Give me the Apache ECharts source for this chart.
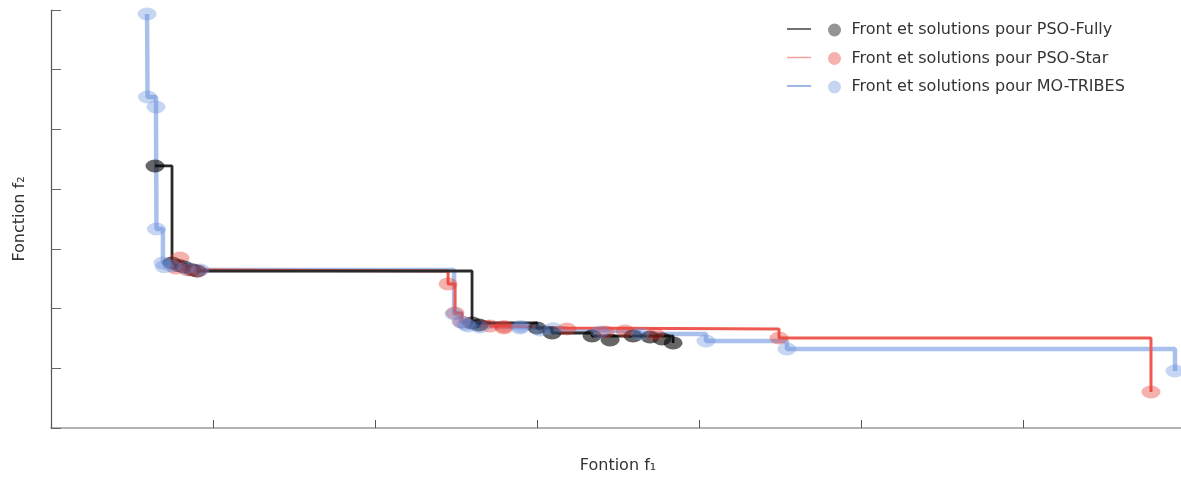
<!DOCTYPE html>
<html>
<head>
<meta charset="utf-8">
<script src="https://cdn.jsdelivr.net/npm/echarts@6/dist/echarts.min.js"></script>
<style>
html,body{margin:0;padding:0;background:#fff;}
#chart{width:1181px;height:477px;}
</style>
</head>
<body>
<div id="chart"></div>
<script>
// Series names
const seriesNames = ['Front et solutions pour PSO-Fully', 'Front et solutions pour PSO-Star', 'Front et solutions pour MO-TRIBES'];

// PSO-Fully: front (non-dominated) and other solutions
const fullyFrontF1 = [0.642, 0.747, 0.821, 0.901, 2.599, 3.000, 3.093, 3.340, 3.840];
const fullyFrontF2 = [4.388, 2.763, 2.696, 2.629, 1.758, 1.675, 1.591, 1.541, 1.424];
const fullyOtherF1 = [0.790, 0.870, 2.642, 3.451, 3.593, 3.698, 3.772];
const fullyOtherF2 = [2.720, 2.650, 1.725, 1.474, 1.541, 1.524, 1.491];

// PSO-Star
const starFrontF1 = [0.772, 0.846, 0.907, 2.451, 2.494, 2.537, 2.710, 2.796, 3.185, 4.494, 6.790];
const starFrontF2 = [2.680, 2.646, 2.629, 2.412, 1.926, 1.775, 1.708, 1.675, 1.658, 1.507, 0.603];
const starOtherF1 = [0.796, 2.796, 3.543, 3.728, 3.420];
const starOtherF2 = [2.847, 1.700, 1.625, 1.574, 1.608];

// MO-TRIBES
const tribesFrontF1 = [0.593, 0.596, 0.648, 0.651, 0.691, 0.747, 0.833, 0.920, 2.488, 2.531, 2.574, 2.648, 2.895, 3.019, 3.389, 3.636, 4.043, 4.543, 6.938];
const tribesFrontF2 = [6.933, 5.543, 5.376, 3.333, 2.763, 2.713, 2.680, 2.646, 1.909, 1.775, 1.708, 1.692, 1.675, 1.641, 1.608, 1.574, 1.457, 1.323, 0.955];
const tribesOtherF1 = [0.700, 2.560, 2.900, 3.100];
const tribesOtherF2 = [2.700, 1.740, 1.700, 1.660];

// Axis ticks (no labels shown)
const axisMin = 0, axisMax = 7, axisStep = 1;

function pairs(xs, ys) { return xs.map((x, i) => [x, ys[i]]); }

const lineColors = ['#2a2a2a', '#ee5a52', 'rgb(100,140,220)'];
const lineWidths = [2.8, 3, 4.5];
const lineOpacity = [1, 1, 0.55];
const dotColors = ['#000000', 'rgb(230,60,50)', 'rgb(100,140,220)'];
const dotOpacity = [0.6, 0.4, 0.37];
const legendOpacity = [0.42, 0.4, 0.37];

const fronts = [pairs(fullyFrontF1, fullyFrontF2), pairs(starFrontF1, starFrontF2), pairs(tribesFrontF1, tribesFrontF2)];
const others = [pairs(fullyOtherF1, fullyOtherF2), pairs(starOtherF1, starOtherF2), pairs(tribesOtherF1, tribesOtherF2)];

const series = [];
// lines: blue bottom, then red, then black
[2, 1, 0].forEach(i => {
  series.push({
    name: 'front' + i,
    type: 'line',
    step: 'end',
    data: fronts[i],
    showSymbol: false,
    symbol: 'none',
    lineStyle: { color: lineColors[i], width: lineWidths[i], opacity: lineOpacity[i] },
    z: 2 + (2 - i),
    silent: true
  });
});
[0, 1, 2].forEach(i => {
  series.push({
    name: seriesNames[i],
    type: 'scatter',
    data: fronts[i].concat(others[i]),
    symbol: 'circle',
    symbolSize: [19, 13],
    itemStyle: { color: dotColors[i], opacity: dotOpacity[i] },
    z: 6 + i
  });
});

const chart = echarts.init(document.getElementById('chart'), null, { renderer: 'canvas' });
const fontFamily = 'DejaVu Sans';
chart.setOption({
  animation: false,
  backgroundColor: '#ffffff',
  grid: { left: 51, right: -4, top: 10, bottom: 49, containLabel: false, outerBoundsMode: 'none' },
  xAxis: {
    type: 'value', min: axisMin, max: axisMax, interval: axisStep,
    name: 'Fontion f₁', nameLocation: 'middle', nameGap: 30,
    nameTextStyle: { fontFamily, fontSize: 16, color: '#333' },
    axisLine: { show: true, lineStyle: { color: '#9a9a9a', width: 1.5 } },
    axisTick: { show: true, inside: true, length: 8, lineStyle: { color: '#555', width: 1 } },
    axisLabel: { show: false },
    splitLine: { show: false }
  },
  yAxis: {
    type: 'value', min: axisMin, max: axisMax, interval: axisStep,
    name: 'Fonction f₂', nameLocation: 'middle', nameGap: 23, nameRotate: 90,
    nameTextStyle: { fontFamily, fontSize: 16, color: '#333' },
    axisLine: { show: true, lineStyle: { color: '#555', width: 1.2 } },
    axisTick: { show: true, inside: true, length: 10, lineStyle: { color: '#666', width: 1 } },
    axisLabel: { show: false },
    splitLine: { show: false }
  },
  legend: {
    orient: 'vertical',
    left: 823, top: 17,
    itemWidth: 18, itemHeight: 13, itemGap: 12.5,
    icon: 'circle',
    textStyle: { fontFamily, fontSize: 16, color: '#333', padding: [0, 0, 0, 3] },
    data: seriesNames.map((n, i) => ({ name: n, itemStyle: { color: dotColors[i], opacity: legendOpacity[i] } }))
  },
  graphic: [
    { type: 'line', shape: { x1: 787, y1: 29, x2: 811, y2: 29 }, style: { stroke: '#444', lineWidth: 1.5 }, silent: true },
    { type: 'line', shape: { x1: 787, y1: 57.5, x2: 811, y2: 57.5 }, style: { stroke: '#f5a3a0', lineWidth: 1.5 }, silent: true },
    { type: 'line', shape: { x1: 787, y1: 86, x2: 811, y2: 86 }, style: { stroke: '#7f9fdc', lineWidth: 1.5 }, silent: true }
  ],
  series: series
});
</script>
</body>
</html>
